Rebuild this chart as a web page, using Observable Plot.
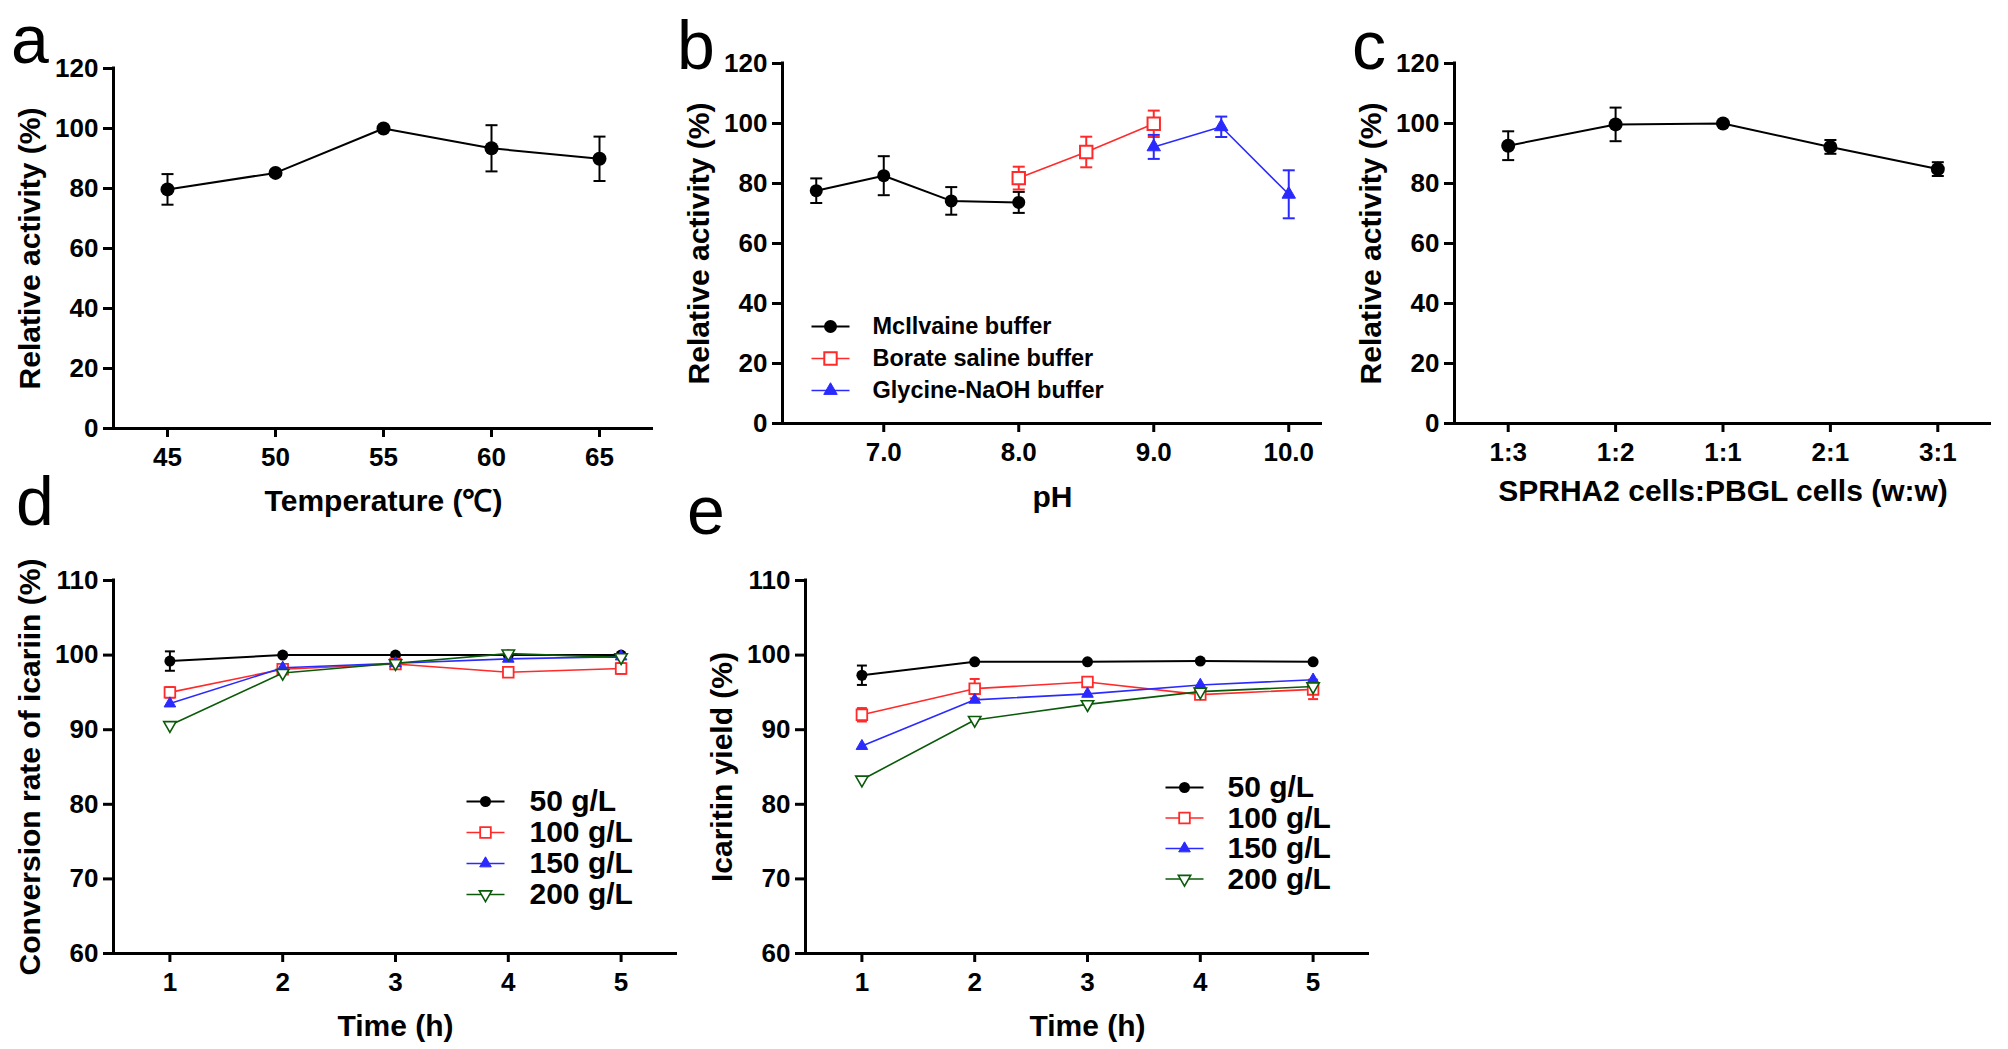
<!DOCTYPE html>
<html><head><meta charset="utf-8">
<script src="https://cdn.jsdelivr.net/npm/d3@7"></script>
<script src="https://cdn.jsdelivr.net/npm/@observablehq/plot@0.6"></script>
<style>
html,body{margin:0;padding:0;background:#fff;}
#fig{position:relative;width:2008px;height:1049px;overflow:hidden;background:#fff;font-family:"Liberation Sans",Arial,Helvetica,sans-serif;}
#fig svg{position:absolute;}
.letter{position:absolute;font-size:68px;line-height:60px;color:#000;font-weight:normal;z-index:5;font-family:"Liberation Sans",Arial,sans-serif;}
</style></head><body><div id="fig"></div>
<script>
// ---------------- data ----------------
// a: temperature
const temperature = [45, 50, 55, 60, 65];
const tempActivity = [79.7, 85.2, 100, 93.4, 89.9];
const tempSD = [5.1, 0, 0, 7.7, 7.4];
const tempTicks = [45, 50, 55, 60, 65];

// b: pH
const phMcIlvaine = [6.5, 7.0, 7.5, 8.0];
const actMcIlvaine = [77.6, 82.6, 74.2, 73.7];
const sdMcIlvaine = [4.1, 6.5, 4.6, 3.5];
const phBorate = [8.0, 8.5, 9.0];
const actBorate = [81.8, 90.5, 99.9];
const sdBorate = [3.8, 5.1, 4.4];
const phGlycine = [9.0, 9.5, 10.0];
const actGlycine = [92.2, 98.9, 76.4];
const sdGlycine = [4.0, 3.4, 8.0];
const phTicks = [7, 8, 9, 10];
const bufferNames = ["McIlvaine buffer", "Borate saline buffer", "Glycine-NaOH buffer"];

// c: cell ratio
const ratioLabels = ["1:3", "1:2", "1:1", "2:1", "3:1"];
const ratioActivity = [92.6, 99.7, 100, 92.2, 84.8];
const ratioSD = [4.8, 5.6, 0, 2.3, 2.3];

// d/e: time course
const hours = [1, 2, 3, 4, 5];
const loadings = ["50 g/L", "100 g/L", "150 g/L", "200 g/L"];
const conv50 = [99.2, 100, 100, 100, 100];
const conv100 = [95.0, 98.1, 98.8, 97.7, 98.2];
const conv150 = [93.5, 98.3, 98.9, 99.5, 99.8];
const conv200 = [90.6, 97.6, 98.9, 100.2, 99.7];
const convSD50 = [1.3, 0, 0, 0, 0];
const convSD100 = [0.7, 0, 0, 0, 0.7];
const yield50 = [97.3, 99.1, 99.1, 99.2, 99.1];
const yield100 = [92.0, 95.5, 96.4, 94.7, 95.4];
const yield150 = [87.8, 94.0, 94.8, 96.0, 96.7];
const yield200 = [83.3, 91.3, 93.4, 95.1, 95.8];
const yieldSD50 = [1.3, 0, 0, 0, 0];
const yieldSD100 = [0.9, 1.3, 0, 0, 1.3];

const activityTicks = [0, 20, 40, 60, 80, 100, 120];
const timeYTicks = [60, 70, 80, 90, 100, 110];

// ---------------- style ----------------
const FONT = '"Liberation Sans", Arial, Helvetica, sans-serif';
const RED = "#ff2a2a", BLUE = "#2a2aff", GREEN = "#0a5a0a", BLACK = "#000";

const hcap = {draw(ctx, size) { const w = Math.sqrt(size / Math.PI); ctx.moveTo(-w, 0); ctx.lineTo(w, 0); }};
const triDown = {draw(ctx, size) {
  const s3 = Math.sqrt(3); const y = -Math.sqrt(size / (s3 * 3));
  ctx.moveTo(0, -2 * y); ctx.lineTo(-s3 * y, y); ctx.lineTo(s3 * y, y); ctx.closePath();
}};

function seriesMarks(s) {
  const rows = s.x.map((x, i) => ({x, y: s.y[i], e: s.sd ? s.sd[i] : 0}));
  const err = rows.filter(d => d.e > 0);
  return [
    Plot.line(rows, {x: "x", y: "y", stroke: s.color, strokeWidth: s.lw}),
    Plot.ruleX(err, {x: "x", y1: d => d.y - d.e, y2: d => d.y + d.e, stroke: s.color, strokeWidth: 2}),
    Plot.dot(err, {x: "x", y: d => d.y + d.e, symbol: hcap, r: s.cap, stroke: s.color, strokeWidth: 2, fill: "none"}),
    Plot.dot(err, {x: "x", y: d => d.y - d.e, symbol: hcap, r: s.cap, stroke: s.color, strokeWidth: 2, fill: "none"}),
    Plot.dot(rows, {x: "x", y: "y", symbol: s.symbol, r: s.r, fill: s.fill, stroke: s.color, strokeWidth: s.sw})
  ];
}

function legendMarks(items, lg) {
  const marks = [];
  items.forEach((s, i) => {
    const dy = lg.top + i * lg.step;
    marks.push(Plot.dot([s], {frameAnchor: "top-left", dx: lg.lineX, dy, symbol: hcap, r: lg.half, stroke: s.color, strokeWidth: s.lw, fill: "none"}));
    marks.push(Plot.dot([s], {frameAnchor: "top-left", dx: lg.lineX, dy, symbol: s.symbol, r: s.r, stroke: s.color, fill: s.fill, strokeWidth: s.sw}));
    marks.push(Plot.text([s], {frameAnchor: "top-left", dx: lg.textX, dy, text: d => d.name, textAnchor: "start", lineAnchor: "middle", fontSize: lg.fontSize, ariaLabel: "legend-text"}));
  });
  return marks;
}

function panel(p) {
  const marks = [
    Plot.ruleX([p.xDomain[0]], {y1: p.yDomain[0], y2: p.yDomain[1], strokeWidth: 3, strokeLinecap: "square"}),
    Plot.ruleY([p.yDomain[0]], {x1: p.xDomain[0], x2: p.xDomain[1], strokeWidth: 3}),
    Plot.axisX({ticks: p.xTicks, tickFormat: p.xFormat, tickSize: 9, tickPadding: 10, strokeWidth: 3, label: null}),
    Plot.axisY({ticks: p.yTicks, tickFormat: d => String(d), tickSize: 10, tickPadding: 5, strokeWidth: 3, label: null}),
    Plot.text([p.xLabel], {frameAnchor: "bottom", dy: p.xLabelDy, text: d => d, fontSize: 30, lineAnchor: "middle", ariaLabel: "x-title"}),
    Plot.text([p.yLabel], {frameAnchor: "left", dx: -83, rotate: -90, text: d => d, fontSize: 30, lineAnchor: "middle", textAnchor: "middle"}),
    ...p.series.flatMap(seriesMarks),
    ...(p.legend ? legendMarks(p.series, p.legend) : [])
  ];
  const svg = Plot.plot({
    width: p.width, height: p.height,
    marginLeft: p.ml, marginRight: p.mr, marginTop: p.mt, marginBottom: p.mb,
    x: {type: "linear", domain: p.xDomain},
    y: {type: "linear", domain: p.yDomain},
    style: {fontFamily: FONT, fontWeight: "bold", fontSize: "26px", color: "#000", background: "transparent", overflow: "visible"},
    marks
  });
  svg.style.left = p.left + "px";
  svg.style.top = p.top + "px";
  d3.select(svg).selectAll('g[aria-label="legend-text"] text').style("letter-spacing", p.legend && p.legend.spacing ? p.legend.spacing : "0px");
  // degree-Celsius sign in a lighter CJK face, as in the reference
  d3.select(svg).selectAll('g[aria-label="x-title"] text').each(function() {
    const t = this.textContent;
    if (t.includes("℃")) {
      const parts = t.split("℃");
      const sel = d3.select(this);
      sel.text(null);
      sel.append("tspan").text(parts[0]);
      sel.append("tspan").attr("font-family", '"Noto Sans CJK SC", sans-serif').attr("font-weight", "normal").text("℃");
      sel.append("tspan").text(parts[1]);
    }
  });
  document.getElementById("fig").appendChild(svg);
}

// panel a
panel({
  left: 0, top: 0, width: 670, height: 530, ml: 113, mr: 17, mt: 68, mb: 102,
  xDomain: [42.5, 67.5], yDomain: [0, 120], xTicks: tempTicks, xFormat: d => String(d), yTicks: activityTicks,
  xLabel: "Temperature (℃)", xLabelDy: 73, yLabel: "Relative activity (%)",
  series: [{x: temperature, y: tempActivity, sd: tempSD, color: BLACK, lw: 2, symbol: "circle", r: 7, fill: BLACK, sw: 0, cap: 6}]
});

// panel b
panel({
  left: 670, top: 0, width: 670, height: 530, ml: 112, mr: 18, mt: 63, mb: 107,
  xDomain: [6.25, 10.25], yDomain: [0, 120], xTicks: phTicks, xFormat: d3.format(".1f"), yTicks: activityTicks,
  xLabel: "pH", xLabelDy: 74, yLabel: "Relative activity (%)",
  series: [
    {name: bufferNames[0], x: phMcIlvaine, y: actMcIlvaine, sd: sdMcIlvaine, color: BLACK, lw: 2, symbol: "circle", r: 6.5, fill: BLACK, sw: 0, cap: 6},
    {name: bufferNames[1], x: phBorate, y: actBorate, sd: sdBorate, color: RED, lw: 1.6, symbol: "square", r: 7, fill: "white", sw: 2, cap: 6},
    {name: bufferNames[2], x: phGlycine, y: actGlycine, sd: sdGlycine, color: BLUE, lw: 1.6, symbol: "triangle", r: 5, fill: BLUE, sw: 1, cap: 6}
  ],
  legend: {top: 263, step: 32, lineX: 48, half: 19, textX: 90, fontSize: 23.5, spacing: "1.5px"}
});

// panel c
panel({
  left: 1340, top: 0, width: 668, height: 530, ml: 114, mr: 17, mt: 63, mb: 107,
  xDomain: [-0.5, 4.5], yDomain: [0, 120], xTicks: d3.range(ratioLabels.length), xFormat: i => ratioLabels[i], yTicks: activityTicks,
  xLabel: "SPRHA2 cells:PBGL cells (w:w)", xLabelDy: 68, yLabel: "Relative activity (%)",
  series: [{x: d3.range(ratioLabels.length), y: ratioActivity, sd: ratioSD, color: BLACK, lw: 2, symbol: "circle", r: 7, fill: BLACK, sw: 0, cap: 6}]
});

const timeSeries = (v, sd) => [
  {name: loadings[0], x: hours, y: v[0], sd: sd[0], color: BLACK, lw: 2, symbol: "circle", r: 5.5, fill: BLACK, sw: 0, cap: 5},
  {name: loadings[1], x: hours, y: v[1], sd: sd[1], color: RED, lw: 1.6, symbol: "square", r: 6, fill: "white", sw: 1.8, cap: 5},
  {name: loadings[2], x: hours, y: v[2], sd: null, color: BLUE, lw: 1.6, symbol: "triangle", r: 4.3, fill: BLUE, sw: 1, cap: 5},
  {name: loadings[3], x: hours, y: v[3], sd: null, color: GREEN, lw: 1.6, symbol: triDown, r: 4.6, fill: "white", sw: 1.6, cap: 5}
];

// panel d
panel({
  left: 0, top: 530, width: 700, height: 519, ml: 113, mr: 23, mt: 50, mb: 96,
  xDomain: [0.5, 5.5], yDomain: [60, 110], xTicks: hours, xFormat: d => String(d), yTicks: timeYTicks,
  xLabel: "Time (h)", xLabelDy: 73, yLabel: "Conversion rate of icariin (%)",
  series: timeSeries([conv50, conv100, conv150, conv200], [convSD50, convSD100]),
  legend: {top: 221, step: 31, lineX: 372, half: 19, textX: 416, fontSize: 30}
});

// panel e
panel({
  left: 700, top: 530, width: 700, height: 519, ml: 105, mr: 31, mt: 50, mb: 96,
  xDomain: [0.5, 5.5], yDomain: [60, 110], xTicks: hours, xFormat: d => String(d), yTicks: timeYTicks,
  xLabel: "Time (h)", xLabelDy: 73, yLabel: "Icaritin yield (%)",
  series: timeSeries([yield50, yield100, yield150, yield200], [yieldSD50, yieldSD100]),
  legend: {top: 207, step: 30.5, lineX: 379, half: 19, textX: 422, fontSize: 30}
});

// panel letters (68px, line-height 60px: baseline ~ 52.6px below the box top)
const letters = [["a", 11, 62], ["b", 677, 68], ["c", 1352, 68], ["d", 16, 524], ["e", 687, 533]];
for (const [t, x, base] of letters) {
  const el = document.createElement("div");
  el.className = "letter"; el.textContent = t;
  el.style.left = x + "px"; el.style.top = (base - 52.6) + "px";
  document.getElementById("fig").appendChild(el);
}
</script></body></html>
